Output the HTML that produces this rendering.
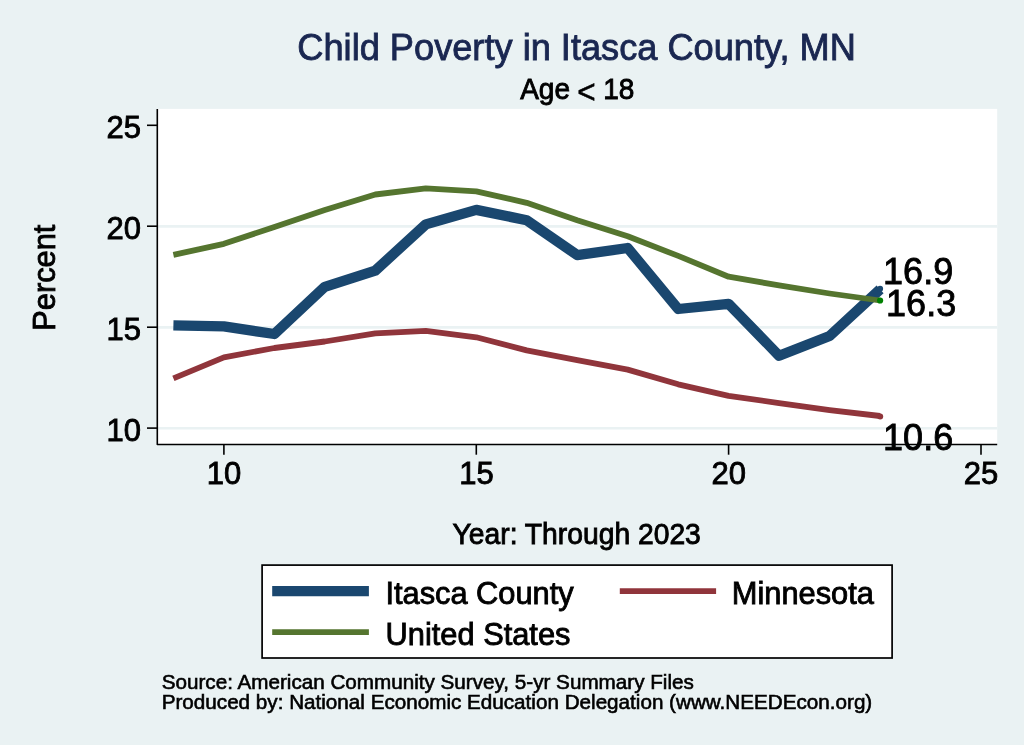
<!DOCTYPE html>
<html lang="en"><head><meta charset="utf-8"><title>Child Poverty in Itasca County, MN</title>
<style>html,body{margin:0;padding:0;background:#EAF2F3;}svg{display:block;will-change:transform;}</style></head>
<body>
<svg width="1024" height="745" viewBox="0 0 1024 745" font-family="Liberation Sans, Arial, Helvetica, sans-serif">
<rect width="1024" height="745" fill="#EAF2F3"/>
<rect x="157" y="108.9" width="840.2" height="335.1" fill="#fff"/>
<line x1="157" x2="997.2" y1="428.3" y2="428.3" stroke="#EAF2F3" stroke-width="2.6"/>
<line x1="157" x2="997.2" y1="327.4" y2="327.4" stroke="#EAF2F3" stroke-width="2.6"/>
<line x1="157" x2="997.2" y1="226.4" y2="226.4" stroke="#EAF2F3" stroke-width="2.6"/>
<polyline points="173.4,325.3 223.9,326.4 274.4,334.0 324.8,286.8 375.3,270.6 425.8,224.4 476.3,209.9 526.7,220.2 577.2,255.1 627.7,248.0 678.2,309.0 728.6,303.8 779.1,355.8 829.6,336.0 880.1,289.4" fill="none" stroke="#1A476F" stroke-width="10.3" stroke-linejoin="round"/>
<circle cx="880.1" cy="288.8" r="3" fill="#1A476F"/>
<polyline points="173.4,378.4 223.9,357.4 274.4,348.0 324.8,341.5 375.3,333.4 425.8,330.8 476.3,337.3 526.7,350.4 577.2,360.1 627.7,369.6 678.2,384.3 728.6,395.8 779.1,403.1 829.6,410.1 880.1,416.0" fill="none" stroke="#90353B" stroke-width="5.8" stroke-linejoin="round"/>
<circle cx="880.2" cy="416.5" r="3" fill="#90353B"/>
<polyline points="173.4,254.9 223.9,243.8 274.4,227.0 324.8,210.1 375.3,194.5 425.8,188.3 476.3,191.3 526.7,202.8 577.2,220.2 627.7,236.3 678.2,255.9 728.6,276.7 779.1,285.4 829.6,293.5 880.1,300.5" fill="none" stroke="#55752F" stroke-width="5.8" stroke-linejoin="round"/>
<circle cx="880.1" cy="300.5" r="3.1" fill="#008000"/>
<polyline points="157.3,108.9 157.3,444.5 997.2,444.5" fill="none" stroke="#000" stroke-width="1.6" stroke-linejoin="round"/>
<line x1="147" x2="157.3" y1="428.1" y2="428.1" stroke="#000" stroke-width="1.6"/>
<text transform="translate(141.0,441.0) scale(1,1.03)" font-size="31" text-anchor="end" stroke="#000" stroke-width="0.85">10</text>
<line x1="147" x2="157.3" y1="327.2" y2="327.2" stroke="#000" stroke-width="1.6"/>
<text transform="translate(141.0,340.0) scale(1,1.03)" font-size="31" text-anchor="end" stroke="#000" stroke-width="0.85">15</text>
<line x1="147" x2="157.3" y1="226.2" y2="226.2" stroke="#000" stroke-width="1.6"/>
<text transform="translate(141.0,239.1) scale(1,1.03)" font-size="31" text-anchor="end" stroke="#000" stroke-width="0.85">20</text>
<line x1="147" x2="157.3" y1="125.3" y2="125.3" stroke="#000" stroke-width="1.6"/>
<text transform="translate(141.0,138.2) scale(1,1.03)" font-size="31" text-anchor="end" stroke="#000" stroke-width="0.85">25</text>
<line x1="223.9" x2="223.9" y1="444.5" y2="454.7" stroke="#000" stroke-width="1.6"/>
<text transform="translate(224.0,484.0) scale(1,1.03)" font-size="31" text-anchor="middle" stroke="#000" stroke-width="0.85">10</text>
<line x1="476.3" x2="476.3" y1="444.5" y2="454.7" stroke="#000" stroke-width="1.6"/>
<text transform="translate(476.4,484.0) scale(1,1.03)" font-size="31" text-anchor="middle" stroke="#000" stroke-width="0.85">15</text>
<line x1="728.6" x2="728.6" y1="444.5" y2="454.7" stroke="#000" stroke-width="1.6"/>
<text transform="translate(728.7,484.0) scale(1,1.03)" font-size="31" text-anchor="middle" stroke="#000" stroke-width="0.85">20</text>
<line x1="981.0" x2="981.0" y1="444.5" y2="454.7" stroke="#000" stroke-width="1.6"/>
<text transform="translate(981.1,484.0) scale(1,1.03)" font-size="31" text-anchor="middle" stroke="#000" stroke-width="0.85">25</text>
<text transform="translate(883.1,283.7) scale(1,1.0)" font-size="36" stroke="#000" stroke-width="0.85">16.9</text>
<text transform="translate(886.1,316.0) scale(1,1.0)" font-size="36" stroke="#000" stroke-width="0.85">16.3</text>
<text transform="translate(883.1,449.85) scale(1,1.0)" font-size="36" stroke="#000" stroke-width="0.85">10.6</text>
<text transform="translate(576.6,60.2) scale(1,1.045)" font-size="36.2" text-anchor="middle" fill="#1A2751" stroke="#1A2751" stroke-width="0.85">Child Poverty in Itasca County, MN</text>
<text transform="translate(0,98.9) scale(1,1.03)" font-size="28" stroke="#000" stroke-width="0.85"><tspan x="520.2">Age </tspan><tspan x="577.3" dy="3.6" font-size="31.5" stroke-width="0.5">&lt; </tspan><tspan x="603.3" dy="-3.6">18</tspan></text>
<text transform="translate(54.85,277.7) rotate(-90) scale(1,1.01)" font-size="30.8" text-anchor="middle" stroke="#000" stroke-width="0.85">Percent</text>
<text transform="translate(576.7,543.9) scale(1,1.03)" font-size="28.27" text-anchor="middle" stroke="#000" stroke-width="0.85">Year: Through 2023</text>
<rect x="262.1" y="565.1" width="630" height="92.9" fill="#fff" stroke="#000" stroke-width="1.7"/>
<line x1="272.2" x2="368.9" y1="591.1" y2="591.1" stroke="#1A476F" stroke-width="10.3"/>
<line x1="272.2" x2="368.9" y1="632.2" y2="632.2" stroke="#55752F" stroke-width="5.8"/>
<line x1="619.8" x2="716.1" y1="591.1" y2="591.1" stroke="#90353B" stroke-width="5.8"/>
<text transform="translate(385.4,603.8) scale(1,1.04)" font-size="30.8" stroke="#000" stroke-width="0.85">Itasca County</text>
<text transform="translate(385.6,645.4) scale(1,1.04)" font-size="30.8" stroke="#000" stroke-width="0.85">United States</text>
<text transform="translate(731.8,603.8) scale(1,1.04)" font-size="30.8" stroke="#000" stroke-width="0.85">Minnesota</text>
<text transform="translate(161.7,688.9) scale(1,1.02)" font-size="20.67" stroke="#000" stroke-width="0.6">Source: American Community Survey, 5-yr Summary Files</text>
<text transform="translate(161.7,709) scale(1,1.02)" font-size="20.67" stroke="#000" stroke-width="0.6">Produced by: National Economic Education Delegation (www.NEEDEcon.org)</text>
</svg>
</body></html>
